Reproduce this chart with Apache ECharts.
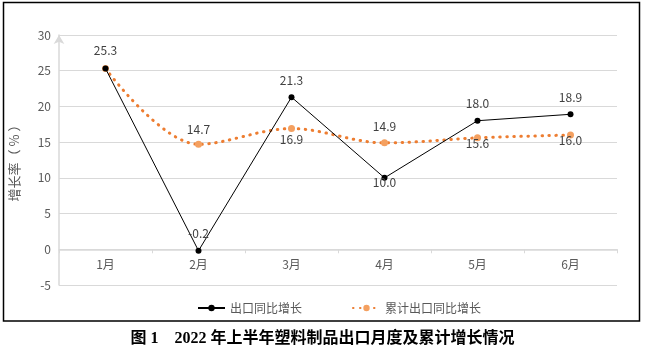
<!DOCTYPE html>
<html>
<head>
<meta charset="utf-8">
<script src="https://cdn.jsdelivr.net/npm/echarts@6/dist/echarts.min.js"></script>
<style>html,body{margin:0;padding:0;background:#fff;}#c{width:645px;height:358px;}</style>
</head>
<body>
<div id="c"></div>
<script>
var categories = ['1月', '2月', '3月', '4月', '5月', '6月'];
var monthlyGrowth = [25.3, -0.2, 21.3, 10.0, 18.0, 18.9];
var cumulativeGrowth = [25.3, 14.7, 16.9, 14.9, 15.6, 16.0];
var seriesNames = ['出口同比增长', '累计出口同比增长'];
var yTicks = [-5, 0, 5, 10, 15, 20, 25, 30];
var titleText = '图 1　2022 年上半年塑料制品出口月度及累计增长情况';

var labelColor = '#404040';
var lblFont = 'Noto Sans CJK SC';
// label styles per point (presentation only)
var blackLabels = [
  {position: 'top', distance: 9},
  {position: 'top', distance: 8},
  {position: 'top', distance: 8},
  {position: 'inside', offset: [0, 5]},
  {position: 'top', distance: 8},
  {position: 'top', distance: 8}
];
var orangeLabels = [
  {show: false},
  {position: 'top', distance: 5},
  {position: 'bottom', distance: 1},
  {position: 'top', distance: 7},
  {position: 'inside', offset: [0, 6]},
  {position: 'inside', offset: [0, 5]}
];
function mk(vals, lbls) {
  return vals.map(function (v, i) {
    return {value: v, label: lbls[i]};
  });
}

var gridTop = 35, gridBottom = 73, H = 358;
var plotH = H - gridTop - gridBottom;
var yMin = yTicks[0], yMax = yTicks[yTicks.length - 1];
var zeroOffset = -plotH * (0 - yMin) / (yMax - yMin);

var chart = echarts.init(document.getElementById('c'));
chart.setOption({
  animation: false,
  textStyle: {fontFamily: lblFont},
  grid: {left: 59, right: 28, top: gridTop, bottom: gridBottom, containLabel: false},
  graphic: [
    {type: 'rect', shape: {x: 3.5, y: 2.5, width: 636, height: 318.5},
     style: {fill: 'none', stroke: '#000', lineWidth: 1.5}, silent: true},
    {type: 'text', left: 'center', top: 331,
     style: {text: titleText, font: 'bold 16px "Liberation Serif","Noto Sans CJK SC"', fill: '#000'}}
  ],
  legend: {
    top: 297, left: 192,
    itemWidth: 27, itemHeight: 8, itemGap: 50,
    textStyle: {color: '#595959', fontSize: 12, fontFamily: lblFont},
    data: seriesNames
  },
  xAxis: {
    type: 'category', data: categories, boundaryGap: true,
    offset: zeroOffset,
    axisLine: {onZero: false, lineStyle: {color: '#d9d9d9', width: 1.5}},
    axisTick: {show: true, length: 4, lineStyle: {color: '#d9d9d9'}},
    axisLabel: {color: '#595959', fontSize: 12, margin: 9, fontFamily: lblFont}
  },
  yAxis: {
    type: 'value', min: yMin, max: yMax, interval: 5,
    name: '增长率（ % ）', nameLocation: 'middle', nameGap: 38,
    nameTextStyle: {color: '#595959', fontSize: 13, fontFamily: lblFont},
    axisLine: {show: true, symbol: ['none', 'arrow'], symbolSize: [8, 9], lineStyle: {color: '#d9d9d9', width: 1.5}},
    axisTick: {show: false},
    axisLabel: {color: '#595959', fontSize: 12, margin: 8, fontFamily: lblFont},
    splitLine: {lineStyle: {color: '#d9d9d9', width: 1}}
  },
  series: [
    {
      name: seriesNames[0], type: 'line', data: mk(monthlyGrowth, blackLabels),
      symbol: 'circle', symbolSize: 6, z: 3,
      lineStyle: {color: '#000', width: 1},
      itemStyle: {color: '#000'},
      label: {show: true, color: labelColor, fontSize: 12, fontFamily: lblFont,
        formatter: function (p) { return p.value.toFixed(1); }}
    },
    {
      name: seriesNames[1], type: 'line', data: mk(cumulativeGrowth, orangeLabels),
      symbol: 'circle', symbolSize: 7, smooth: 0.35, z: 2,
      lineStyle: {color: '#ED7D31', width: 3, type: [0.5, 6.5], cap: 'round'},
      itemStyle: {color: '#F4A060'},
      label: {show: true, color: labelColor, fontSize: 12, fontFamily: lblFont,
        formatter: function (p) { return p.value.toFixed(1); }}
    }
  ]
});
</script>
</body>
</html>
